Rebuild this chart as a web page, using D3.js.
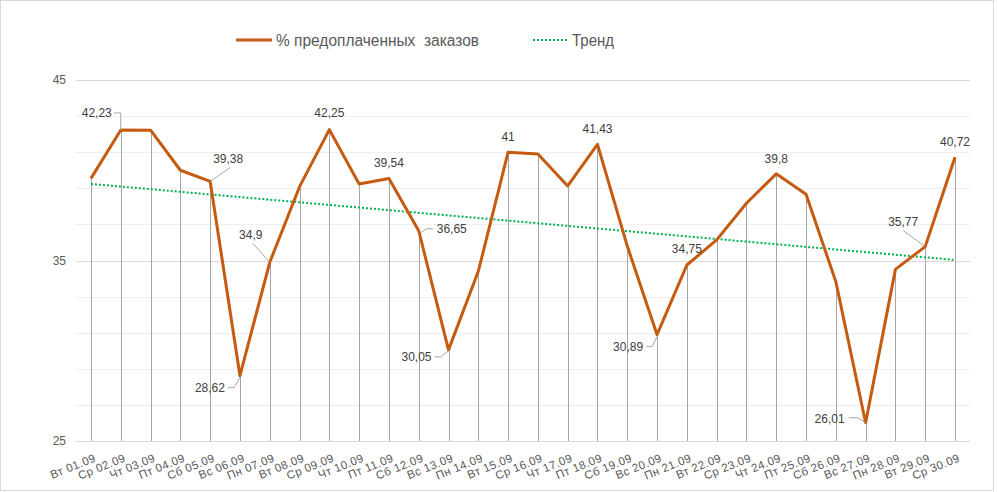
<!DOCTYPE html>
<html><head><meta charset="utf-8">
<script src="https://cdn.jsdelivr.net/npm/d3@7"></script>
<style>body{margin:0;background:#fff;font-family:"Liberation Sans",Arial,sans-serif;} text{white-space:pre;}</style>
</head><body><svg id="c" width="998" height="492"></svg>
<script>
const categories = ["Вт 01.09","Ср 02.09","Чт 03.09","Пт 04.09","Сб 05.09","Вс 06.09","Пн 07.09","Вт 08.09","Ср 09.09","Чт 10.09","Пт 11.09","Сб 12.09","Вс 13.09","Пн 14.09","Вт 15.09","Ср 16.09","Чт 17.09","Пт 18.09","Сб 19.09","Вс 20.09","Пн 21.09","Вт 22.09","Ср 23.09","Чт 24.09","Пт 25.09","Сб 26.09","Вс 27.09","Пн 28.09","Вт 29.09","Ср 30.09"];
const prepaidPct = [39.55,42.23,42.22,40.0,39.38,28.62,34.9,39.09,42.25,39.24,39.54,36.65,30.05,34.4,41,40.9,39.13,41.43,35.8,30.89,34.75,36.14,38.17,39.8,38.67,33.83,26.01,34.51,35.77,40.72];
const trendEnds = [39.24, 35.03];
const yTickLabels = [25, 35, 45];
const seriesName = "% предоплаченных  заказов";
const trendName = "Тренд";
// label layout (index, dx, dy, anchor, leader points relative to point)
const labelLayout = [
  {i:1, dx:-9, dy:-17, a:"end", leader:[[-7,-17],[0,-17],[0,0]]},
  {i:4, dx:18, dy:-23, a:"middle", leader:[[20,-14],[0,0]]},
  {i:6, dx:-19, dy:-28, a:"middle", leader:[[-17,-19],[0,0]]},
  {i:8, dx:0, dy:-17, a:"middle"},
  {i:10, dx:0, dy:-16, a:"middle"},
  {i:11, dx:18, dy:-2, a:"start", leader:[[2,2],[8,-2],[14,-2]]},
  {i:5, dx:-15, dy:12, a:"end", leader:[[-12,12],[-6,12],[0,2]]},
  {i:12, dx:-17, dy:7, a:"end", leader:[[-14,7],[-8,7],[0,1]]},
  {i:14, dx:0, dy:-15, a:"middle"},
  {i:17, dx:0, dy:-16, a:"middle"},
  {i:19, dx:-14, dy:12, a:"end", leader:[[-11,12],[-5,12],[0,2]]},
  {i:20, dx:0, dy:-16, a:"middle"},
  {i:23, dx:0, dy:-15, a:"middle"},
  {i:28, dx:-22, dy:-25, a:"middle", leader:[[-22,-16],[0,0]]},
  {i:29, dx:0, dy:-15, a:"middle"},
  {i:26, dx:-21, dy:-4, a:"end", leader:[[-17,-5],[-8,-5],[0,0]]}
];

const svg = d3.select("#c");
svg.append("rect").attr("x",0.5).attr("y",0.5).attr("width",993).attr("height",490)
  .attr("fill","#fff").attr("stroke","#d9d9d9");

const x = d3.scalePoint().domain(categories).range([91, 955]);
const y = d3.scaleLinear().domain([25, 45]).range([441, 80]);
const left = 76, right = 970;

// gridlines
const g = svg.append("g");
g.selectAll("line.grid").data(d3.range(27, 45, 2)).join("line")
  .attr("x1", left).attr("x2", right).attr("y1", d => Math.round(y(d))+0.5).attr("y2", d => Math.round(y(d))+0.5)
  .attr("stroke", "#efefef");
g.selectAll("line.major").data(yTickLabels).join("line")
  .attr("x1", left).attr("x2", right).attr("y1", d => Math.round(y(d))+0.5).attr("y2", d => Math.round(y(d))+0.5)
  .attr("stroke", "#d9d9d9");

// y axis labels
const yAxis = d3.axisLeft(y).tickValues(yTickLabels).tickSize(0).tickPadding(10);
const ya = svg.append("g").attr("transform", `translate(${left},0)`).call(yAxis);
ya.select(".domain").remove();
ya.selectAll("text").attr("font-size", 12).attr("fill", "#595959").attr("font-family", "Liberation Sans, Arial, sans-serif");

// drop lines
svg.append("g").selectAll("line").data(prepaidPct).join("line")
  .attr("x1", (d,i) => Math.round(x(categories[i]))+0.5).attr("x2", (d,i) => Math.round(x(categories[i]))+0.5)
  .attr("y1", d => y(d)).attr("y2", y(25))
  .attr("stroke", "#a6a6a6").attr("stroke-width", 1);

// x axis labels
const xAxis = d3.axisBottom(x).tickSize(0).tickPadding(0);
const xa = svg.append("g").attr("transform", `translate(0,${y(25)})`).call(xAxis);
xa.select(".domain").remove();
xa.selectAll("text")
  .attr("font-size", 11.5).attr("fill", "#595959").attr("font-family", "Liberation Sans, Arial, sans-serif")
  .attr("letter-spacing", 0.4)
  .attr("text-anchor", "end").attr("dy", "0").attr("y", 0)
  .attr("transform", "translate(5,20) rotate(-22)");

// trend line
svg.append("line")
  .attr("x1", x(categories[0])).attr("y1", y(trendEnds[0]))
  .attr("x2", x(categories[categories.length-1])).attr("y2", y(trendEnds[1]))
  .attr("stroke", "#00b050").attr("stroke-width", 2).attr("stroke-dasharray", "2,2");

// main line
const line = d3.line().x((d,i) => x(categories[i])).y(d => y(d));
svg.append("path").datum(prepaidPct).attr("d", line)
  .attr("fill","none").attr("stroke","#c55a11").attr("stroke-width",3).attr("stroke-linejoin","round");

// labels
const lg = svg.append("g");
labelLayout.forEach(L => {
  const px = x(categories[L.i]), py = y(prepaidPct[L.i]);
  if (L.leader) {
    lg.append("polyline").attr("points", L.leader.map(p => [px+p[0], py+p[1]].join(",")).join(" "))
      .attr("fill","none").attr("stroke","#a6a6a6").attr("stroke-width",1);
  }
  lg.append("text").attr("x", px + L.dx).attr("y", py + L.dy).attr("dy", "0.35em")
    .attr("text-anchor", L.a).attr("font-size", 12).attr("fill", "#404040")
    .text(String(prepaidPct[L.i]).replace(".", ","));
});

// legend
const leg = svg.append("g");
leg.append("line").attr("x1",236).attr("x2",272).attr("y1",40).attr("y2",40).attr("stroke","#c55a11").attr("stroke-width",3);
leg.append("text").attr("x",276).attr("y",40).attr("dy","0.35em").attr("font-size",16).attr("fill","#595959")
  .attr("textLength",203).attr("lengthAdjust","spacingAndGlyphs").text(seriesName);
leg.append("line").attr("x1",533).attr("x2",567).attr("y1",40).attr("y2",40).attr("stroke","#00b050").attr("stroke-width",2).attr("stroke-dasharray","2,2");
leg.append("text").attr("x",572).attr("y",40).attr("dy","0.35em").attr("font-size",16).attr("fill","#595959")
  .attr("textLength",42).attr("lengthAdjust","spacingAndGlyphs").text(trendName);
</script></body></html>
